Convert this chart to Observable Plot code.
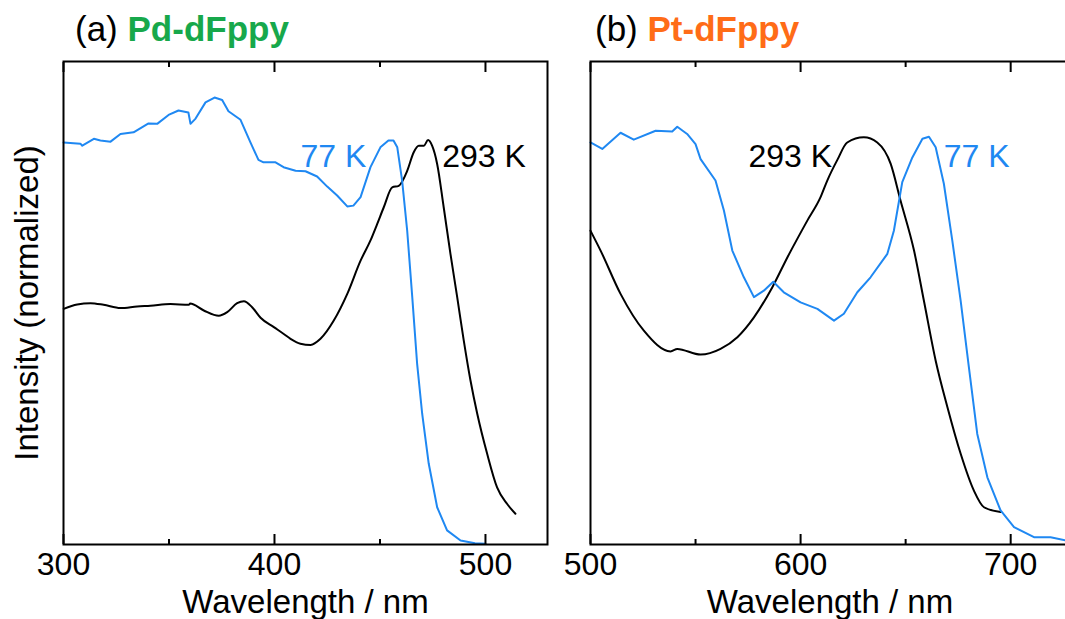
<!DOCTYPE html>
<html><head><meta charset="utf-8">
<script src="https://cdn.jsdelivr.net/npm/d3@7"></script>
<script src="https://cdn.jsdelivr.net/npm/@observablehq/plot@0.6"></script>
<style>
html,body{margin:0;padding:0;background:#fff;overflow:hidden;}
#wrap{position:relative;width:1065px;height:619px;overflow:hidden;font-family:"Liberation Sans",Arial,sans-serif;}
.panel{position:absolute;top:0;}
.title{position:absolute;top:11px;font-size:35px;white-space:nowrap;line-height:1;color:#000;}
.title b{font-weight:bold;}
</style></head><body>
<div id="wrap"></div>
<script>
// ---------- data ----------
const seriesNames = ["77 K", "293 K"];
const seriesColors = ["#1f88f2", "#000000"];

// (a) Pd-dFppy, 77 K
const pdWl77 = [300, 308, 308.9, 314.4, 317.5, 322.3, 327, 333.2, 340.3, 344.4, 349.8, 354.5, 359.2, 360.2, 362.6, 367.3, 371.6, 375.2, 378.2, 383.9, 388.6, 392.4, 394.8, 400.5, 404.3, 410, 414.7, 420.2, 425, 429.7, 434.5, 437.4, 440.8, 445.5, 450.2, 454, 456.4, 458.2, 460.5, 462.9, 465.3, 467.6, 470, 473.1, 477.1, 481.8, 488.2, 495, 500];
const pdI77 = [0.993, 0.990, 0.985, 1.002, 0.998, 0.995, 1.014, 1.018, 1.040, 1.039, 1.061, 1.072, 1.067, 1.039, 1.052, 1.092, 1.104, 1.098, 1.070, 1.049, 0.993, 0.950, 0.944, 0.944, 0.932, 0.923, 0.922, 0.909, 0.884, 0.862, 0.835, 0.837, 0.858, 0.932, 0.981, 0.998, 0.998, 0.981, 0.899, 0.775, 0.611, 0.447, 0.323, 0.200, 0.092, 0.035, 0.010, 0.003, 0.002];
// (a) Pd-dFppy, 293 K
const pdWl293 = [300.1, 306.5, 312.8, 319, 327, 334.9, 341.2, 350.7, 359.4, 360, 366.5, 373.6, 377.6, 382.3, 385.5, 389.4, 393.4, 399.7, 404.4, 407.6, 412.3, 417.1, 421.8, 428.1, 434.5, 440.8, 445.5, 448.7, 451.8, 455.8, 458.9, 462.9, 466, 468.4, 470.8, 472.8, 474.7, 477.1, 480.2, 483.4, 486.6, 489.7, 492.9, 496.1, 500.8, 505.5, 510.3, 514.2];
const pdI293 = [0.582, 0.593, 0.596, 0.592, 0.584, 0.588, 0.590, 0.594, 0.592, 0.595, 0.578, 0.565, 0.574, 0.596, 0.601, 0.586, 0.560, 0.537, 0.520, 0.508, 0.496, 0.493, 0.508, 0.553, 0.619, 0.701, 0.751, 0.792, 0.833, 0.882, 0.886, 0.923, 0.969, 0.985, 0.985, 0.999, 0.985, 0.940, 0.833, 0.718, 0.611, 0.504, 0.405, 0.323, 0.224, 0.141, 0.100, 0.076];

// (b) Pt-dFppy, 77 K
const ptWl77 = [500, 505.6, 514.3, 520.6, 531, 538.9, 541.3, 546, 550, 552.4, 559.5, 563.5, 567.5, 573, 577.8, 582.5, 587, 592, 600, 608, 615.9, 620.6, 627, 633.3, 641.3, 644.4, 648.4, 653.2, 658, 661.1, 664.3, 668.2, 672.2, 676.2, 680.1, 684.1, 688.9, 695.2, 701.6, 711.1, 719, 726.2];
const ptI77 = [0.993, 0.977, 1.017, 1.000, 1.022, 1.020, 1.032, 1.014, 0.989, 0.952, 0.899, 0.825, 0.726, 0.660, 0.611, 0.627, 0.649, 0.623, 0.598, 0.582, 0.553, 0.570, 0.623, 0.660, 0.718, 0.775, 0.895, 0.956, 1.002, 1.007, 0.981, 0.891, 0.751, 0.602, 0.438, 0.273, 0.166, 0.084, 0.043, 0.018, 0.018, 0.010];
// (b) Pt-dFppy, 293 K
const ptWl293 = [500, 504.8, 514.3, 525.4, 538.1, 541.3, 552.4, 561.9, 569.9, 577.8, 586.5, 593.7, 603.2, 609.5, 612.7, 617.5, 622.2, 630.1, 636.5, 642.9, 647.6, 654, 658.7, 664.3, 669.9, 676.2, 682.5, 687.3, 695.2];
const ptI293 = [0.775, 0.726, 0.619, 0.528, 0.477, 0.483, 0.469, 0.483, 0.512, 0.561, 0.635, 0.709, 0.800, 0.858, 0.899, 0.950, 0.993, 1.006, 0.993, 0.940, 0.849, 0.726, 0.602, 0.454, 0.339, 0.224, 0.133, 0.092, 0.080];

// axis ticks
const pdMajor = [300, 400, 500], pdMinor = [350, 450];
const ptMajor = [500, 600, 700], ptMinor = [550, 650];

// curve labels (label, wavelength, intensity)
const pdLabels = ["77 K", "293 K"], pdLabelWl = [412.3, 479.5], pdLabelI = [0.957, 0.957];
const ptLabels = ["293 K", "77 K"], ptLabelWl = [575.2, 668.1], ptLabelI = [0.957, 0.957];

// ---------- build ----------
const FONT = '"Liberation Sans", Arial, Helvetica, sans-serif';
const Y_TOP = 1.193;
const colorOf = s => seriesColors[seriesNames.indexOf(s)];
const rows = (wl, v) => wl.map((w, i) => ({wl: w, v: v[i]}));

function panel({left, width, marginLeft, marginRight, domain, major, minor, s77, s293, labels, wls, vals, yLabel, title, titleColor, titleLeft}) {
  const annots = labels.map((l, i) => ({label: l, wl: wls[i], v: vals[i]}));
  const marks = [
    Plot.line(s293, {x: "wl", y: "v", stroke: colorOf("293 K"), strokeWidth: 2, curve: "monotone-x"}),
    Plot.line(s77, {x: "wl", y: "v", stroke: colorOf("77 K"), strokeWidth: 2}),
    Plot.frame({stroke: "#000", strokeWidth: 2}),
    Plot.axisX(major, {anchor: "bottom", tickSize: -10, tickPadding: 18, fontSize: 32, label: null, strokeWidth: 2}),
    Plot.axisX(minor, {anchor: "bottom", tickSize: -5, tickFormat: () => "", label: null, strokeWidth: 2}),
    Plot.axisX(major, {anchor: "top", tickSize: -10, tickFormat: () => "", label: null, strokeWidth: 2}),
    Plot.axisX(minor, {anchor: "top", tickSize: -5, tickFormat: () => "", label: null, strokeWidth: 2}),
    Plot.axisX([], {anchor: "bottom", label: "Wavelength / nm", labelAnchor: "center", labelArrow: "none", labelOffset: 68, fontSize: 33, tickSize: 0}),
    ...seriesNames.map(s => Plot.text(annots.filter(d => d.label === s), {x: "wl", y: "v", text: "label", fill: colorOf(s), textAnchor: "start", lineAnchor: "middle", fontSize: 32}))
  ];
  if (yLabel) marks.push(Plot.axisY([], {anchor: "left", label: yLabel, labelAnchor: "center", labelArrow: "none", labelOffset: 49, fontSize: 33, tickSize: 0}));
  else marks.push(Plot.axisY([], {anchor: "left", label: null, tickSize: 0}));
  const chart = Plot.plot({
    width, height: 619, marginLeft, marginRight, marginTop: 61, marginBottom: 75,
    style: {fontFamily: FONT, background: "transparent", color: "#000", overflow: "visible"},
    x: {domain},
    y: {domain: [0, Y_TOP]},
    marks
  });
  const div = document.createElement("div");
  div.className = "panel";
  div.style.left = left + "px";
  div.appendChild(chart);
  document.getElementById("wrap").appendChild(div);

  const t = document.createElement("div");
  t.className = "title";
  t.style.left = titleLeft + "px";
  t.innerHTML = title[0] + ' <b style="color:' + titleColor + '">' + title[1] + '</b>';
  document.getElementById("wrap").appendChild(t);
}

panel({left: 0, width: 560, marginLeft: 63, marginRight: 13, domain: [300, 529.4],
  major: pdMajor, minor: pdMinor, s77: rows(pdWl77, pdI77), s293: rows(pdWl293, pdI293),
  labels: pdLabels, wls: pdLabelWl, vals: pdLabelI, yLabel: "Intensity (normalized)",
  title: ["(a)", "Pd-dFppy"], titleColor: "#17a84b", titleLeft: 75});

panel({left: 560, width: 505, marginLeft: 30, marginRight: -4, domain: [500, 728],
  major: ptMajor, minor: ptMinor, s77: rows(ptWl77, ptI77), s293: rows(ptWl293, ptI293),
  labels: ptLabels, wls: ptLabelWl, vals: ptLabelI, yLabel: null,
  title: ["(b)", "Pt-dFppy"], titleColor: "#ff6c17", titleLeft: 595});
</script>
</body></html>
